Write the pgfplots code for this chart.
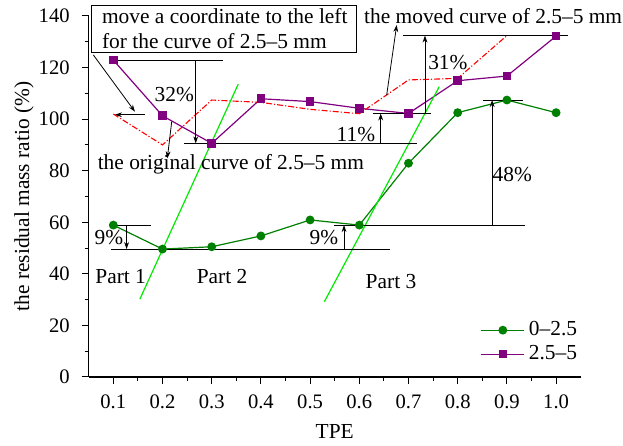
\documentclass[border=0pt]{standalone}
\usepackage{pgfplots}
\pgfplotsset{compat=1.18}
\usepackage{fontspec}
\setmainfont{Liberation Serif}
\usetikzlibrary{arrows.meta}

\definecolor{sizeA}{RGB}{0,128,0}
\definecolor{sizeB}{RGB}{128,0,128}
\definecolor{tangent}{RGB}{0,235,0}
\definecolor{moved}{RGB}{255,0,0}

\begin{document}
\begin{tikzpicture}[font=\fontsize{10.7}{12.5}\selectfont,
  >={Stealth[length=3.5pt,width=2.4pt]}]
\begin{axis}[
  scale only axis, width=246pt, height=180.5pt,
  xmin=0.05, xmax=1.05, ymin=0, ymax=140,
  axis lines*=left,
  axis line style={line width=0.6pt},
  tick align=outside,
  tick style={black, line width=0.5pt},
  major tick length=3.5pt, minor tick length=2pt,
  xtick={0.1,0.2,0.3,0.4,0.5,0.6,0.7,0.8,0.9,1.0},
  minor x tick num=1,
  ytick={0,20,40,60,80,100,120,140},
  minor y tick num=1,
  tick label style={font=\fontsize{10.3}{12}\selectfont},
  /pgf/number format/assume math mode=true,
  xticklabel style={yshift=-1.8pt, /pgf/number format/.cd, fixed, fixed zerofill, precision=1},
  yticklabel style={xshift=-2.5pt},
  clip=false,
  legend cell align=left,
  legend image code/.code={
    \draw[mark repeat=2,mark phase=2,#1] plot coordinates {(0pt,0pt) (10.75pt,0pt) (21.5pt,0pt)};
  },
  legend style={draw=none, fill=none, at={(axis cs:0.846,23.2)}, anchor=north west,
    inner sep=0pt, row sep=-0.6pt, font=\fontsize{10.7}{12}\selectfont},
]
% residual mass ratio of the two particle-size groups
\addplot[sizeA, line width=0.6pt, mark=*, mark size=1.9pt]
  coordinates {(0.1,58.9)(0.2,49.6)(0.3,50.5)(0.4,54.7)(0.5,60.9)
               (0.6,58.9)(0.7,82.9)(0.8,102.5)(0.9,107.4)(1.0,102.5)};
\addplot[sizeB, line width=0.6pt, mark=square*, mark size=1.85pt]
  coordinates {(0.1,122.9)(0.2,101.3)(0.3,90.6)(0.4,107.9)(0.5,106.8)
               (0.6,104.2)(0.7,102.2)(0.8,114.9)(0.9,116.7)(1.0,132.2)};
\legend{0–2.5, 2.5–5}

% 2.5-5 mm curve shifted one step to the left
\addplot[moved, line width=0.55pt, dash pattern=on 3pt off 1pt on 0.6pt off 1pt]
  coordinates {(0.1,102.0)(0.2,90.0)(0.3,107.4)(0.4,106.5)(0.5,103.8)
               (0.6,102.1)(0.7,115.2)(0.8,115.8)(0.9,132.4)};

% boundaries between the parts
\addplot[tangent, line width=0.6pt] coordinates {(0.154,30.2)(0.354,113.6)};
\addplot[tangent, line width=0.6pt] coordinates {(0.529,29.2)(0.7625,112.6)};

% 9 % drop (part 1)
\draw (axis cs:0.096,58.9) -- (axis cs:0.176,58.9);
\draw (axis cs:0.096,49.6) -- (axis cs:0.662,49.6);
\draw[->] (axis cs:0.127,58.9) -- (axis cs:0.127,49.6);
\node[anchor=base] at (axis cs:0.091,51.2) {9\%};
% 9 % rise (part 2)
\draw (axis cs:0.549,58.9) -- (axis cs:0.936,58.9);
\draw[->] (axis cs:0.569,49.6) -- (axis cs:0.569,58.9);
\node[anchor=base] at (axis cs:0.528,51.2) {9\%};
% 48 % rise (part 3)
\draw[->] (axis cs:0.870,58.9) -- (axis cs:0.870,107.4);
\draw (axis cs:0.851,107.4) -- (axis cs:0.933,107.4);
\node[anchor=base] at (axis cs:0.911,75.7) {48\%};
% 31 % rise
\draw[->] (axis cs:0.7335,102.2) -- (axis cs:0.7335,132.4);
\draw (axis cs:0.689,132.4) -- (axis cs:1.024,132.4);
\draw (axis cs:0.627,102.2) -- (axis cs:0.745,102.2);
\node[anchor=base] at (axis cs:0.780,119.1) {31\%};
% 11 % rise
\draw[->] (axis cs:0.6435,90.6) -- (axis cs:0.6435,102.2);
\draw (axis cs:0.244,90.6) -- (axis cs:0.717,90.6);
\node[anchor=base] at (axis cs:0.593,91.3) {11\%};
% 32 % drop
\draw[->] (axis cs:0.2675,122.9) -- (axis cs:0.2675,90.6);
\draw (axis cs:0.0975,122.9) -- (axis cs:0.3236,122.9);
\node[anchor=base] at (axis cs:0.224,106.8) {32\%};

% explanatory box and arrows
\draw[line width=0.5pt, fill=white] (axis cs:0.0561,125.65) rectangle (axis cs:0.5939,144.07);
\node[anchor=base west, inner sep=0pt] at (axis cs:0.0764,137.2) {move a coordinate to the left};
\node[anchor=base west, inner sep=0pt] at (axis cs:0.0764,127.5) {for the curve of 2.5–5 mm};
\draw[->] (axis cs:0.0594,124.9) -- (axis cs:0.144,102.9);
\draw[->] (axis cs:0.1644,101.7) -- (axis cs:0.1035,101.7);
\node[anchor=base] at (axis cs:0.339,80.3) {the original curve of 2.5–5 mm};
\draw[->] (axis cs:0.2187,99.0) -- (axis cs:0.2098,84.8);
\node[anchor=base] at (axis cs:0.872,136.9) {the moved curve of 2.5–5 mm};
\draw[->] (axis cs:0.6557,109.4) -- (axis cs:0.676,136.5);

% part names
\node[anchor=base] at (axis cs:0.115,36.1) {Part 1};
\node[anchor=base] at (axis cs:0.321,36.1) {Part 2};
\node[anchor=base] at (axis cs:0.6644,34.4) {Part 3};

% axis titles
\node[rotate=90] at (axis cs:-0.0815,70) {the residual mass ratio (\%)};
\node at (axis cs:0.55,-21.3) {TPE};

\coordinate (bbSW) at (axis cs:-0.1303,-26.76);
\coordinate (bbNE) at (axis cs:1.1360,146.2);
\end{axis}
\pgfresetboundingbox
\path[use as bounding box] (bbSW) rectangle (bbNE);
\end{tikzpicture}
\end{document}
